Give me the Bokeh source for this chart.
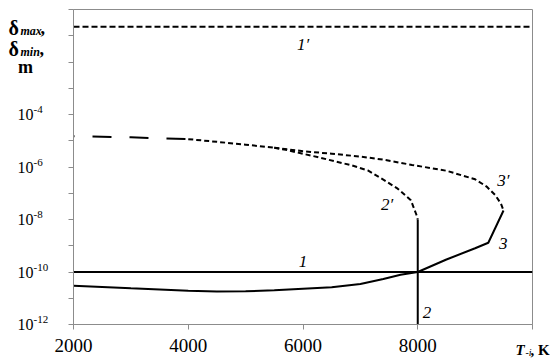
from bokeh.plotting import figure
from bokeh.models import FixedTicker, Label
from bokeh.embed import file_html
from bokeh.resources import INLINE

# ---------------- data ----------------
x_ticks = [2000, 4000, 6000, 8000, 10000]
y_tick_exps = list(range(-12, 1))
y_label_exps = [-4, -6, -8, -10, -12]

# line 1 (delta_min level) and 1' (delta_max level)
t_1 = [2000, 10000]
d_1 = [1e-10, 1e-10]
t_1p = [2000, 10000]
d_1p = [0.22, 0.22]

# curve 2 (vertical solid) and 2'
t_2 = [8000, 8000]
d_2 = [1e-8, 1e-12]
t_2p = [5500, 5700, 6250, 6850, 7130, 7420, 7650, 7880, 7980, 8000]
d_2p = [5.4e-6, 4.5e-6, 2.4e-6, 1.15e-6, 7.4e-7, 3.1e-7, 1.5e-7, 5.4e-8, 1.45e-8, 1e-8]

# common part of 2' and 3'
t_long = [2000, 3000, 4000]
d_long = [1.5e-5, 1.35e-5, 1.15e-5]
t_common = [4000, 4500, 5000, 5500]
d_common = [1.15e-5, 9.1e-6, 7.1e-6, 5.4e-6]

# curve 3 and 3'
t_3 = [2000, 3000, 4000, 4500, 5000, 5500, 6000, 6500, 7000, 7400, 7700, 8000, 8500, 9000, 9230, 9495]
d_3 = [3.0e-11, 2.4e-11, 1.95e-11, 1.8e-11, 1.86e-11, 2.0e-11, 2.3e-11, 2.6e-11, 3.5e-11, 5.4e-11,
       7.9e-11, 1e-10, 3.0e-10, 8.0e-10, 1.3e-9, 2.2e-8]
t_3p = [5500, 6000, 6500, 7000, 7400, 7900, 8500, 9000, 9200, 9350, 9450, 9495]
d_3p = [5.4e-6, 4.0e-6, 3.2e-6, 2.5e-6, 1.9e-6, 1.2e-6, 7.2e-7, 3.4e-7, 1.8e-7, 8.5e-8, 4.0e-8, 2.2e-8]

# curve labels
curve_labels = ["1\u2032", "1", "2\u2032", "2", "3\u2032", "3"]
curve_label_t = [6000, 6000, 7464, 8163, 9490, 9490]
curve_label_d = [10 ** -1.32, 10 ** -9.6, 10 ** -7.42, 10 ** -11.55, 10 ** -6.51, 10 ** -8.91]

# ---------------- figure ----------------
FONT = "Liberation Serif"
GRAY = "#8c8c8c"
FL, FT, FW, FH = 73, 9, 459, 315   # frame placement in pixels

p = figure(frame_width=FW, frame_height=FH, x_range=(2000, 10000), y_range=(1e-12, 1),
           y_axis_type="log", output_backend="svg", toolbar_location=None,
           min_border_left=FL, min_border_right=550 - FL - FW, min_border_top=FT,
           min_border_bottom=362 - FT - FH)
p.grid.visible = False
p.outline_line_color = GRAY
p.outline_line_width = 1
p.background_fill_color = "white"
p.border_fill_color = "white"

for ax in (p.xaxis[0], p.yaxis[0]):
    ax.axis_line_color = GRAY
    ax.major_tick_line_color = GRAY
    ax.major_tick_out = 5
    ax.major_tick_in = 0
    ax.minor_tick_out = 0
    ax.minor_tick_in = 0
    ax.major_label_text_font = FONT
    ax.major_label_text_color = "black"

p.xaxis.major_label_text_font_size = "19px"
p.xaxis.ticker = FixedTicker(ticks=x_ticks)
p.xaxis.major_label_overrides = {10000: ""}
p.xaxis.major_label_standoff = 9

y_ticks = [10.0 ** e for e in y_tick_exps]
p.yaxis.ticker = FixedTicker(ticks=y_ticks, minor_ticks=[])
p.yaxis.major_label_overrides = {t: "" for t in y_ticks}
p.yaxis.major_label_text_font_size = "1px"
p.yaxis.major_label_standoff = 0

# lines
p.line(t_1, d_1, line_color="black", line_width=2)
p.line(t_1p, d_1p, line_color="black", line_width=2, line_dash="6 3")
p.line(t_2, d_2, line_color="black", line_width=2)
p.line(t_2p, d_2p, line_color="black", line_width=2, line_dash="5 3")
p.line(t_long, d_long, line_color="black", line_width=2, line_dash="19 18", line_dash_offset=18)
p.line(t_common, d_common, line_color="black", line_width=2, line_dash="5 3")
p.line(t_3, d_3, line_color="black", line_width=2)
p.line(t_3p, d_3p, line_color="black", line_width=2, line_dash="5 3")

# curve labels (inside frame)
for txt, tx, dy in zip(curve_labels, curve_label_t, curve_label_d):
    p.add_layout(Label(x=tx, y=dy, text=txt, text_font=FONT, text_font_style="italic",
                       text_font_size="17px", text_align="center", text_baseline="middle",
                       text_color="black"))

# texts outside the frame: placed in a side panel so they are not clipped,
# positioned with data units converted from pixel positions
def px2x(px):
    return 2000 + (px - FL) * 8000.0 / FW

def py2y(py):
    return 10 ** (-12 + (FT + FH - py) * 12.0 / FH)

def outer(text, px, y, size, style="normal", baseline="alphabetic", yoff=0, align="left"):
    p.add_layout(Label(x=px2x(px), y=y, text=text, text_font=FONT, text_font_size=size,
                       text_font_style=style, text_align=align, text_baseline=baseline,
                       y_offset=yoff, text_color="black"), "below")

# y tick labels: 10 with superscript exponent
for e in y_label_exps:
    outer("10", 17, 10.0 ** e, "16px", baseline="middle")
    outer("-%d" % (-e), 33, 10.0 ** e, "11px", baseline="middle", yoff=5)

# y axis title
outer("\u03b4", 8, py2y(27), "20px", "bold")
outer("max", 20, py2y(30), "12px", "bold italic")
outer(",", 40, py2y(27), "18px", "bold")
outer("\u03b4", 8, py2y(48), "20px", "bold")
outer("min", 20, py2y(51), "12px", "bold italic")
outer(",", 39, py2y(48), "18px", "bold")
outer("m", 25, py2y(66), "18px", "bold", align="center")

# x axis title
outer("T", 515, py2y(349), "15px", "bold italic")
outer("-i", 525, py2y(352), "10px", "italic")
outer(", K", 530, py2y(349), "15px", "bold")

open("out.html", "w").write(file_html(p, INLINE))
